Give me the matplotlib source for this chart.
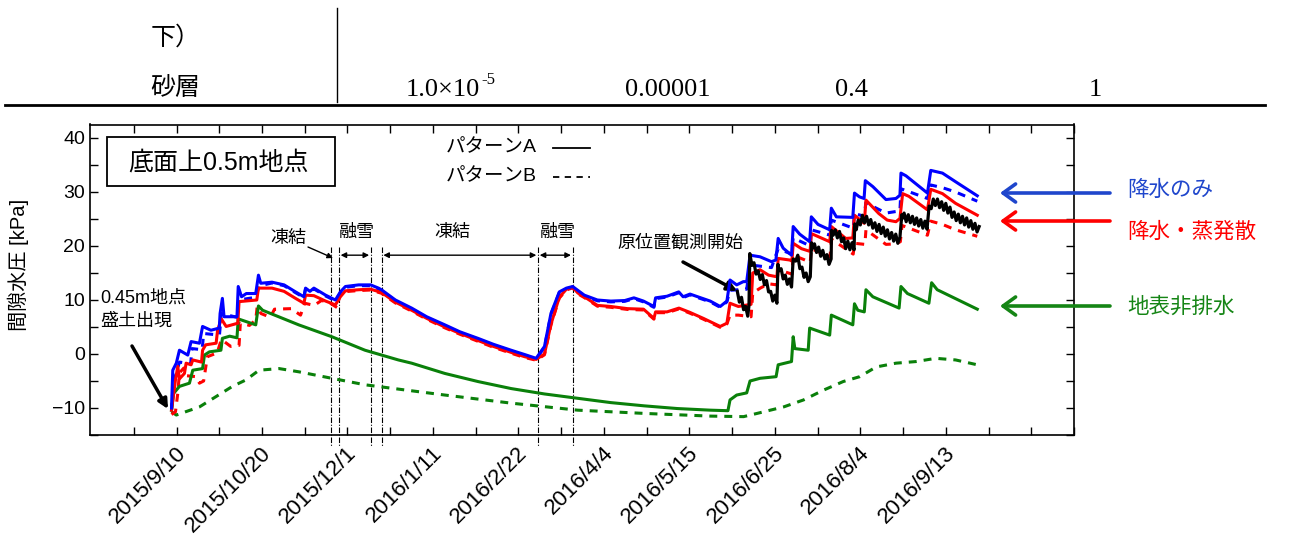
import numpy as np
import matplotlib
matplotlib.use("Agg")
import matplotlib.pyplot as plt
from matplotlib.patches import Rectangle
from matplotlib.lines import Line2D
from matplotlib.transforms import ScaledTranslation

plt.rcParams['font.family'] = ['Liberation Sans', 'Noto Sans CJK JP', 'DejaVu Sans']
plt.rcParams['axes.linewidth'] = 1.2

# ---------------- data (x = days since 2015/9/10, y = kPa) ----------------
date_labels = ['2015/9/10', '2015/10/20', '2015/12/1', '2016/1/11', '2016/2/22',
               '2016/4/4', '2016/5/15', '2016/6/25', '2016/8/4', '2016/9/13']

event_days = [74.1, 77.9, 93.2, 98.4, 173.4, 190.0]

blue_A = [(-2.4, -10.0), (-1.8, -3.0), (-0.1, -1.7), (1.4, 0.7), (5.4, -0.2), (7.0, 2.3),
          (11.0, 2.0), (12.5, 5.1), (16.5, 4.4), (20.5, 4.8), (20.9, 7.5), (22.0, 10.3),
          (22.8, 6.9), (29.0, 6.9), (29.6, 12.5), (31.2, 10.6), (33.5, 11.2), (38.0, 11.2),
          (39.3, 14.6), (40.4, 13.1), (45.8, 13.3), (51.6, 12.8), (57.1, 11.5), (61.1, 10.6),
          (61.9, 12.2), (64.0, 11.6), (65.9, 12.2), (71.5, 10.9), (76.2, 10.0), (78.6, 11.5),
          (81.0, 12.5), (87.4, 12.8), (93.1, 12.8), (96.9, 12.2), (98.3, 11.9), (105.0, 10.0),
          (112.8, 8.5), (120.0, 6.9), (128.7, 5.4), (136.0, 4.1), (144.6, 2.9), (152.0, 1.8),
          (160.5, 0.7), (167.0, -0.1), (172.5, -0.8), (176.5, 1.4), (179.6, 7.5), (183.6, 11.5),
          (187.0, 12.2), (190.0, 12.5), (195.6, 10.9), (201.9, 10.0), (208.3, 9.8), (215.0, 9.9),
          (219.4, 10.4), (224.0, 9.8), (229.0, 8.8), (229.8, 10.4), (235.3, 10.7), (240.9, 11.5),
          (243.0, 10.6), (246.3, 11.1), (250.0, 10.6), (256.0, 9.8), (260.8, 8.8), (264.0, 9.8),
          (265.5, 13.7), (268.7, 12.8), (271.9, 13.4), (273.5, 13.4), (275.1, 18.3), (279.9, 18.0),
          (285.4, 17.1), (287.5, 17.4), (288.6, 21.4), (291.0, 19.6), (295.0, 18.3), (295.8, 23.6),
          (298.9, 22.2), (303.7, 20.8), (304.5, 25.4), (307.7, 24.0), (313.3, 23.0), (314.1, 27.0),
          (316.5, 25.4), (324.4, 25.3), (325.2, 29.8), (327.6, 29.1), (329.8, 28.8), (330.4, 32.1),
          (334.0, 31.0), (340.3, 28.6), (345.1, 28.8), (347.0, 29.4), (347.5, 33.5), (349.9, 33.0),
          (360.2, 29.8), (361.8, 34.0), (367.4, 33.5), (373.7, 31.9), (384.1, 29.3)]

blue_B_early = [(-2.4, -10.6), (-1.6, -5.5), (1.4, -1.5), (6.8, -1.8), (7.4, 1.0), (12.3, 0.8),
                (13.0, 3.8), (20.6, 3.5), (21.5, 7.5), (28.9, 6.8), (29.8, 10.0), (38.0, 10.5),
                (39.6, 12.6)]
blue_B_late = [(265.5, 11.8), (273.5, 12.0), (275.1, 16.5), (285.4, 16.0), (288.6, 19.5),
               (295.0, 18.5), (295.8, 21.5), (304.0, 20.0), (304.5, 23.0), (313.5, 22.0),
               (314.1, 24.8), (324.6, 23.3), (325.2, 26.0), (330.0, 25.5), (330.6, 28.0),
               (340.3, 26.1), (347.0, 26.5), (347.5, 30.6), (360.2, 28.8), (361.8, 31.3),
               (367.4, 30.8), (373.7, 30.0), (384.1, 28.3)]

red_A = [(-2.4, -10.4), (-0.5, -4.8), (0.6, -2.3), (1.4, -4.6), (3.8, -3.6), (4.6, -1.7),
         (7.0, -2.0), (7.8, -1.1), (12.0, -1.5), (12.5, 0.7), (14.0, 1.7), (19.0, 2.0),
         (19.7, 4.4), (21.5, 6.5), (23.8, 5.1), (29.4, 5.7), (30.0, 9.7), (38.5, 10.0),
         (39.3, 12.2), (45.8, 12.2), (51.6, 11.6), (57.1, 10.3), (61.1, 9.4), (61.9, 10.9),
         (65.9, 10.8), (71.5, 9.8), (76.2, 9.1), (78.6, 10.6), (81.0, 11.7), (87.4, 11.9),
         (93.1, 12.0), (98.3, 11.4), (105.0, 9.6), (112.8, 8.1), (120.0, 6.6), (128.7, 5.0),
         (136.0, 3.8), (144.6, 2.5), (152.0, 1.4), (160.5, 0.3), (167.0, -0.5), (172.5, -1.0),
         (176.5, 0.0), (179.6, 5.5), (183.6, 10.5), (187.0, 12.0), (190.0, 12.4), (192.5, 11.3),
         (195.6, 10.6), (201.9, 9.0), (208.3, 8.8), (216.3, 8.4), (224.0, 8.3), (229.0, 6.6),
         (229.8, 7.8), (235.3, 7.8), (241.0, 8.5), (246.3, 7.7), (252.7, 6.6), (260.8, 5.1),
         (264.0, 5.7), (265.5, 9.4), (269.5, 8.8), (275.6, 9.2), (276.4, 15.0), (279.9, 15.6),
         (284.0, 14.6), (288.0, 14.3), (288.6, 17.7), (294.2, 17.4), (295.2, 17.2), (295.8, 20.5),
         (299.8, 19.5), (303.9, 19.0), (304.5, 22.3), (313.3, 20.8), (314.1, 23.6), (321.0, 21.4),
         (324.4, 21.5), (325.2, 25.7), (329.9, 24.2), (330.7, 28.5), (336.9, 26.0), (340.9, 24.8),
         (345.1, 24.5), (347.0, 25.1), (348.3, 29.7), (351.3, 29.2), (360.2, 26.7), (361.8, 30.5),
         (367.4, 29.7), (373.7, 27.9), (384.1, 25.7)]

red_B_early = [(-2.4, -11.2), (-0.5, -10.7), (0.6, -7.3), (1.4, -3.5), (3.5, -2.6), (4.2, -4.0),
               (9.4, -4.2), (11.0, -5.4), (13.0, -5.0), (14.8, -0.5), (19.5, 0.2), (21.5, 2.7),
               (26.0, 1.4), (30.0, 1.6), (30.6, 5.7), (35.0, 5.3), (38.0, 6.3), (38.7, 8.8),
               (40.5, 7.5), (45.0, 6.8), (47.0, 8.3), (55.0, 8.4), (59.5, 7.2), (61.5, 9.4),
               (66.0, 9.0), (69.5, 9.9), (73.0, 9.6), (77.0, 8.6), (78.5, 11.2)]
red_B_late = [(265.5, 7.2), (269.5, 7.2), (275.6, 6.9), (276.4, 11.3), (280.0, 12.2), (284.0, 13.0),
              (288.0, 12.8), (288.6, 15.6), (295.2, 14.8), (295.8, 18.3), (304.0, 17.0),
              (304.5, 19.5), (313.5, 18.0), (314.1, 21.3), (324.6, 18.5), (325.2, 20.5),
              (330.2, 20.3), (330.7, 23.0), (340.3, 20.3), (345.1, 20.4), (347.2, 20.8),
              (348.0, 23.8), (360.2, 22.0), (361.8, 24.6), (367.4, 24.0), (373.7, 23.0),
              (384.1, 21.8)]

green_A = [(-2.4, -10.4), (-1.4, -7.3), (1.4, -6.0), (6.2, -5.4), (7.0, -4.2), (7.8, -3.0),
           (12.5, -2.7), (13.4, -0.2), (15.8, 0.4), (21.3, 0.7), (22.0, 2.9), (25.5, 3.3),
           (29.0, 3.0), (29.6, 6.5), (38.0, 5.4), (39.3, 8.9), (41.3, 8.1), (58.6, 5.4),
           (74.5, 3.2), (90.4, 0.7), (106.4, -1.1), (112.8, -1.7), (128.7, -3.6), (144.6, -5.1),
           (160.5, -6.4), (176.5, -7.4), (192.4, -8.2), (208.3, -9.0), (224.3, -9.6), (240.2, -10.1),
           (256.0, -10.4), (264.5, -10.5), (265.5, -8.5), (268.7, -7.6), (273.5, -7.2), (275.1, -5.0),
           (279.9, -4.5), (287.6, -4.2), (288.6, -2.0), (295.0, -1.4), (295.8, 3.2), (296.6, 1.0),
           (303.0, 0.7), (303.7, 4.8), (313.3, 3.5), (314.1, 7.2), (324.4, 5.4), (325.2, 9.3),
           (326.8, 8.1), (329.9, 7.8), (330.7, 11.9), (334.0, 10.6), (346.6, 8.5), (347.5, 12.5),
           (350.6, 11.2), (360.9, 9.4), (362.2, 13.2), (364.9, 11.9), (384.1, 8.3)]

green_B = [(-2.4, -10.7), (-0.1, -11.3), (11.0, -9.8), (18.9, -7.9), (26.8, -6.0), (33.3, -4.8),
           (39.6, -3.0), (49.2, -2.7), (58.7, -3.3), (74.5, -4.5), (90.4, -5.7), (106.4, -6.5),
           (128.7, -7.6), (160.5, -9.1), (192.4, -10.4), (224.3, -11.0), (256.0, -11.5),
           (272.0, -11.6), (278.5, -11.0), (291.2, -9.8), (300.8, -8.5), (310.3, -6.7),
           (319.8, -5.1), (327.7, -4.2), (335.6, -2.4), (345.1, -1.7), (354.7, -1.4),
           (364.2, -0.8), (373.7, -1.1), (384.1, -2.0)]

observed = [(269, 11.6), (270, 9.6), (271, 10.5), (272, 8.2), (273, 8.8), (274, 7.0), (274.6, 9.0),
            (275, 18.6), (276, 16.4), (277, 16.9), (278, 14.8), (279, 15.4), (280, 13.8), (281, 14.7),
            (282, 12.8), (283, 13.6), (284, 11.5), (285, 11.6), (286, 9.8), (287, 10.9), (288, 9.4),
            (288.5, 16.6), (289, 15.4), (290, 15.8), (291, 13.9), (292, 14.6), (293, 12.9), (294, 13.9),
            (295, 12.4), (295.8, 17.6), (297, 17.2), (298, 18.3), (299, 15.8), (300, 16.1), (301, 14.2),
            (302, 15.0), (303, 13.4), (304, 14.3), (304.6, 20.6), (305, 19.5), (306, 20.4), (307, 18.8),
            (308, 19.8), (309, 18.1), (310, 19.2), (311, 17.6), (312, 18.4), (313, 16.6), (314, 17.6),
            (314.2, 22.9), (315, 22.0), (316, 23.0), (317, 21.5), (318, 22.7), (319, 20.8), (320, 21.5),
            (321, 19.5), (322, 20.9), (323, 19.3), (324, 20.6), (325, 19.3), (325.3, 24.1), (326, 23.0),
            (327, 24.8), (328, 23.9), (329, 25.7), (330, 24.3), (331, 25.5), (332, 23.9), (333, 24.9),
            (334, 23.3), (335, 24.3), (336, 22.7), (337, 24.0), (338, 22.3), (339, 23.5), (340, 21.8),
            (341, 23.0), (342, 21.3), (343, 22.5), (344, 20.9), (345, 22.2), (346, 20.5), (347, 21.6),
            (347.9, 25.8), (348, 25.0), (349, 26.1), (350, 24.5), (351, 25.8), (352, 24.3), (353, 25.5),
            (354, 24.0), (355, 25.2), (356, 23.7), (357, 24.9), (358, 23.3), (359, 24.6), (360, 23.1),
            (361, 27.4), (362, 26.9), (363, 28.7), (364, 27.5), (365, 28.7), (366, 27.1), (367, 28.2),
            (368, 26.6), (369, 27.9), (370, 26.1), (371, 27.2), (372, 25.3), (373, 26.3), (374, 24.7),
            (375, 25.9), (376, 24.3), (377, 25.5), (378, 23.9), (379, 25.2), (380, 23.5), (381, 24.7),
            (382, 23.1), (383, 24.2), (384, 22.6), (385, 23.6)]

# ---------------- helpers ----------------
W, H = 1295, 537


def arr(pts):
    a = np.array(pts, dtype=float)
    return a[:, 0], a[:, 1]


def F(x, y):
    return (x / W, 1 - y / H)


bA_d, bA_v = arr(blue_A)
rA_d, rA_v = arr(red_A)
m_b = (bA_d >= 45) & (bA_d <= 264.5)
m_r = (rA_d >= 80) & (rA_d <= 264.5)
bBe_d, bBe_v = arr(blue_B_early)
bBl_d, bBl_v = arr(blue_B_late)
rBe_d, rBe_v = arr(red_B_early)
rBl_d, rBl_v = arr(red_B_late)
bB_d = np.concatenate([bBe_d, bA_d[m_b], bBl_d])
bB_v = np.concatenate([bBe_v, bA_v[m_b] - 0.15, bBl_v])
rB_d = np.concatenate([rBe_d, rA_d[m_r], rBl_d])
rB_v = np.concatenate([rBe_v, rA_v[m_r] - 0.15, rBl_v])
gA_d, gA_v = arr(green_A)
gB_d, gB_v = arr(green_B)
ob_d, ob_v = arr(observed)

# ---------------- figure ----------------
fig = plt.figure(figsize=(W / 100, H / 100), dpi=100)
ax = fig.add_axes([90 / W, 1 - 435 / H, (1074 - 90) / W, (435 - 124.5) / H])

C_B, C_R, C_G = '#0000ff', '#ff0000', '#0a800a'
LW = 2.2
DASH = (0, (2.6, 2.3))

ax.plot(gB_d, gB_v, color=C_G, lw=LW, ls=DASH, zorder=3)
ax.plot(gA_d, gA_v, color=C_G, lw=LW, zorder=4)
ax.plot(rB_d, rB_v, color=C_R, lw=LW, ls=DASH, zorder=3)
ax.plot(bB_d, bB_v, color=C_B, lw=LW, ls=DASH, zorder=3)
ax.plot(rA_d, rA_v, color=C_R, lw=LW, zorder=4)
ax.plot(bA_d, bA_v, color=C_B, lw=LW, zorder=5)
ax.plot(ob_d, ob_v, color='black', lw=2.3, zorder=6)

# event lines
for d in event_days:
    ax.plot([d, d], [19.8, -17.0], color='black', lw=0.8, ls=(0, (5, 1.5, 1, 1.5)),
            clip_on=False, zorder=2)

arrow_y = 18.3
for a, b in [(1, 2), (3, 4), (4, 5)]:
    ax.annotate('', xy=(event_days[b] - 0.8, arrow_y), xytext=(event_days[a] + 0.8, arrow_y),
                arrowprops=dict(arrowstyle='<|-|>', lw=1.0, color='black', mutation_scale=8,
                                shrinkA=0, shrinkB=0))

ax.set_xlim(-41.5, 428.2)
ax.set_ylim(-15, 42.5)
ax.set_yticks([-10, 0, 10, 20, 30, 40])
ax.set_yticks(np.arange(-15, 42, 5), minor=True)
xt = [41 * i for i in range(11)]
ax.set_xticks(xt)
ax.set_xticklabels(date_labels + [''])
ax.set_xticks([41 * i - 20.5 for i in range(11)] + [430.5], minor=True)
ax.tick_params(which='both', direction='in', top=True, right=True, length=6, width=1.0)
ax.tick_params(axis='y', labelsize=14)
ax.tick_params(axis='x', labelsize=16, pad=11)
for lab in ax.get_xticklabels():
    lab.set_rotation(45)
    lab.set_ha('right')
    lab.set_va('center')
    lab.set_rotation_mode('anchor')
    lab.set_transform(lab.get_transform() + ScaledTranslation(6 / 100, 0, fig.dpi_scale_trans))

fig.text(*F(18, 265), '間隙水圧 [kPa]', rotation=90, ha='center', va='center', fontsize=14.5)

# title box
fig.add_artist(Rectangle(F(107, 186), 228 / W, 49 / H, transform=fig.transFigure,
                         fill=False, lw=1.3, color='black'))
fig.text(*F(218, 162), '底面上0.5m地点', ha='center', va='center', fontsize=18)

# legend
fig.text(*F(537, 148), 'パターンA', ha='right', va='center', fontsize=14)
fig.text(*F(537, 177), 'パターンB', ha='right', va='center', fontsize=14)
fig.add_artist(Line2D([553 / W, 590 / W], [1 - 148 / H] * 2, color='black', lw=1.3))
fig.add_artist(Line2D([553 / W, 590 / W], [1 - 177 / H] * 2, color='black', lw=1.3,
                      ls=(0, (3.5, 3))))

# annotations
fs_a = 13
fig.text(*F(288, 238), '凍結', ha='center', va='center', fontsize=fs_a)
fig.text(*F(357, 232), '融雪', ha='center', va='center', fontsize=fs_a)
fig.text(*F(452, 232), '凍結', ha='center', va='center', fontsize=fs_a)
fig.text(*F(558, 232), '融雪', ha='center', va='center', fontsize=fs_a)
fig.text(*F(680, 243), '原位置観測開始', ha='center', va='center', fontsize=fs_a)
fig.text(*F(100, 298), '0.45m地点', ha='left', va='center', fontsize=fs_a)
fig.text(*F(100, 321), '盛土出現', ha='left', va='center', fontsize=fs_a)

ax.annotate('', xy=F(333, 258), xytext=F(308, 247), xycoords='figure fraction',
            arrowprops=dict(arrowstyle='-|>', lw=1.0, color='black', mutation_scale=8,
                            shrinkA=0, shrinkB=0))
ax.annotate('', xy=F(737, 291), xytext=F(683, 262), xycoords='figure fraction',
            arrowprops=dict(arrowstyle='-|>', lw=2.5, color='black', mutation_scale=14,
                            shrinkA=0, shrinkB=0))
ax.annotate('', xy=F(168, 409), xytext=F(132, 346), xycoords='figure fraction',
            arrowprops=dict(arrowstyle='-|>', lw=2.5, color='black', mutation_scale=14,
                            shrinkA=0, shrinkB=0))

# right side labels
side = [('降水のみ', '#1f46cc', 193, 190), ('降水・蒸発散', '#ff0000', 221, 232),
        ('地表非排水', '#158515', 306, 307)]
for txt, col, ya, yt in side:
    ax.annotate('', xy=F(1000, ya), xytext=F(1110, ya), xycoords='figure fraction',
                arrowprops=dict(arrowstyle='->, head_length=0.9, head_width=0.65', lw=2.6,
                                color=col, mutation_scale=10, shrinkA=0, shrinkB=0))
    fig.text(*F(1127, yt), txt, ha='left', va='center', fontsize=15.5, color=col)

# table fragment on top
fig.add_artist(Line2D([337 / W] * 2, [1 - 8 / H, 1 - 102 / H], color='black', lw=1.0))
fig.add_artist(Line2D([5 / W, 1265 / W], [1 - 105 / H] * 2, color='black', lw=2.0))
fig.text(*F(176, 38), '下）', ha='center', va='center', fontsize=18)
fig.text(*F(175, 88), '砂層', ha='center', va='center', fontsize=18)
serif = ['Liberation Serif', 'DejaVu Serif']
fig.text(*F(480, 90), '1.0×10', ha='right', va='center', fontsize=19, family=serif)
fig.text(*F(481, 80), '-5', ha='left', va='center', fontsize=12, family=serif)
fig.text(*F(668, 90), '0.00001', ha='center', va='center', fontsize=19, family=serif)
fig.text(*F(851, 90), '0.4', ha='center', va='center', fontsize=19, family=serif)
fig.text(*F(1095, 90), '1', ha='center', va='center', fontsize=19, family=serif)

fig.savefig('out.png', dpi=100)
